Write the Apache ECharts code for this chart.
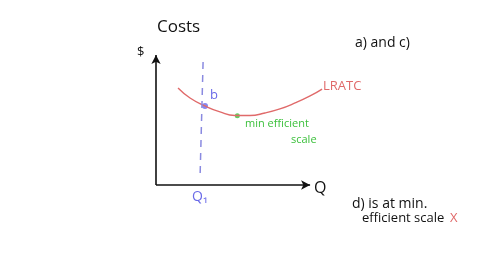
<!DOCTYPE html>
<html><head><meta charset="utf-8">
<script src="https://cdn.jsdelivr.net/npm/echarts@6/dist/echarts.min.js"></script>
<style>html,body{margin:0;padding:0;background:#fff}#c{width:480px;height:270px}</style>
</head><body><div id="c"></div>
<script>
// LRATC curve (Q, cost) in sketch units
const lratcQ = [1.03, 1.59, 2.29, 2.99, 3.69, 4.39, 5.09, 5.79, 6.50, 7.20, 7.76];
const lratcCost = [7.46, 6.69, 6.08, 5.62, 5.35, 5.35, 5.54, 5.85, 6.31, 6.85, 7.38];
// Q1 dashed vertical line
const q1Line = [[2.20, 9.46], [2.06, 0.69]];
// points
const pointB = [2.29, 6.08];
const pointMES = [3.80, 5.33];
// axes extents
const xAxisEnd = 7.2;
const yAxisTop = 10.0;

const font = '"Open Sans", "DejaVu Sans", sans-serif';
const chart = echarts.init(document.getElementById('c'));
chart.setOption({
  animation: false,
  backgroundColor: '#fff',
  grid: {left: 156, right: 110, top: 55, bottom: 85},
  xAxis: {type: 'value', min: 0, max: 10, show: false},
  yAxis: {type: 'value', min: 0, max: 10, show: false},
  series: [
    {
      type: 'line', data: [], silent: true,
      markLine: {
        silent: true, symbol: ['none', 'arrow'], symbolSize: [7, 9],
        label: {show: false},
        lineStyle: {color: '#111', width: 1.6, type: 'solid'},
        data: [
          [{coord: [0, 0]}, {coord: [0, yAxisTop]}],
          [{coord: [0, 0]}, {coord: [xAxisEnd, 0]}]
        ]
      }
    },
    {
      type: 'line', smooth: 0.5, symbol: 'none',
      data: lratcQ.map((q, i) => [q, lratcCost[i]]),
      lineStyle: {color: '#e06a6a', width: 1.4}
    },
    {
      type: 'line', symbol: 'none', data: q1Line,
      lineStyle: {color: '#8a8ae0', width: 1.5, type: [7, 6]}
    },
    {
      type: 'scatter', data: [pointB], symbolSize: 6,
      itemStyle: {color: '#6a6ae8'}
    },
    {
      type: 'scatter', data: [pointMES], symbolSize: 5,
      itemStyle: {color: '#3cc03c'}
    }
  ],
  graphic: [
    {type: 'text', left: 157, top: 19, style: {text: 'Costs', font: '17px ' + font, fill: '#111'}},
    {type: 'text', left: 137, top: 46, style: {text: '$', font: '13px ' + font, fill: '#111'}},
    {type: 'text', left: 210, top: 89, style: {text: 'b', font: '13px ' + font, fill: '#6a6ae8'}},
    {type: 'text', left: 323, top: 80, style: {text: 'LRATC', font: '13px ' + font, fill: '#e06a6a'}},
    {type: 'text', left: 245, top: 118, style: {text: 'min efficient', font: '11px ' + font, fill: '#3cc03c'}},
    {type: 'text', left: 291, top: 134, style: {text: 'scale', font: '11px ' + font, fill: '#3cc03c'}},
    {type: 'text', left: 192, top: 190, style: {text: 'Q\u2081', font: '14px ' + font, fill: '#6a6ae8'}},
    {type: 'text', left: 314, top: 180, style: {text: 'Q', font: '16px ' + font, fill: '#111'}},
    {type: 'text', left: 355, top: 36, style: {text: 'a) and c)', font: '14px ' + font, fill: '#111'}},
    {type: 'text', left: 352, top: 197, style: {text: 'd) is at min.', font: '14px ' + font, fill: '#111'}},
    {type: 'text', left: 362, top: 212, style: {text: 'efficient scale', font: '13px ' + font, fill: '#111'}},
    {type: 'text', left: 450, top: 212, style: {text: 'X', font: '13px ' + font, fill: '#e06a6a'}}
  ]
});
</script></body></html>
